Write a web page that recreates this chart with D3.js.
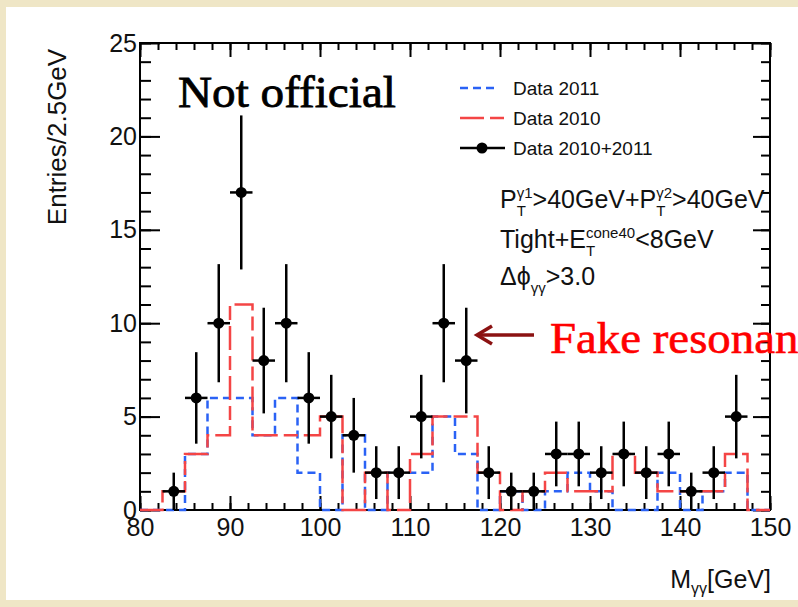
<!DOCTYPE html>
<html><head><meta charset="utf-8">
<script src="https://cdn.jsdelivr.net/npm/d3@7"></script>
<style>
html,body{margin:0;padding:0;background:#efe6c6;}
svg{display:block;}
text{font-family:"Liberation Sans",Arial,Helvetica,sans-serif;}
</style></head>
<body>
<svg id="c" width="798" height="607"></svg>
<script>
// ---- data ----
const binCenters = [81.25,83.75,86.25,88.75,91.25,93.75,96.25,98.75,101.25,103.75,106.25,108.75,111.25,113.75,116.25,118.75,121.25,123.75,126.25,128.75,131.25,133.75,136.25,138.75,141.25,143.75,146.25,148.75];
const data2010_2011 = [0,1,6,10,17,8,10,6,5,4,2,2,5,10,8,2,1,1,3,3,2,3,2,3,1,2,5,0];
const data2010 = [0,1,3,4,11,4,4,4,5,0,2,0,3,5,5,2,0,1,2,1,1,3,2,1,1,1,3,0];
const data2011 = [0,0,3,6,6,4,6,2,0,4,0,2,2,5,3,0,1,0,1,2,1,0,0,2,0,1,2,0];
const binWidth = 2.5;
const xTicks = [80,90,100,110,120,130,140,150];
const yTicks = [0,5,10,15,20,25];
const legendLabels = ["Data 2011","Data 2010","Data 2010+2011"];

const svg = d3.select("#c");
// background panel
svg.append("rect").attr("x",0).attr("y",0).attr("width",798).attr("height",607).attr("fill","#efe6c6");
svg.append("rect").attr("x",6).attr("y",7).attr("width",792).attr("height",593).attr("fill","#ffffff");

const x = d3.scaleLinear().domain([80,150]).range([140,770]);
const y = d3.scaleLinear().domain([0,25]).range([510,43]);

const minorX = d3.range(80,150.001,2);
const minorY = d3.range(0,25.001,1);

function styleAxis(g){ g.select(".domain").remove(); g.selectAll("line").attr("stroke","#000").attr("stroke-width",2); }

// bottom
svg.append("g").attr("transform","translate(0,510)")
  .call(d3.axisBottom(x).tickValues(minorX).tickFormat("").tickSizeInner(-7).tickSizeOuter(0)).call(styleAxis);
svg.append("g").attr("transform","translate(0,510)")
  .call(d3.axisBottom(x).tickValues(xTicks).tickSizeInner(-14).tickSizeOuter(0).tickPadding(8)).call(styleAxis)
  .selectAll("text").attr("font-size",25).attr("fill","#111").style("font-family","'Liberation Sans',Arial");
// top
svg.append("g").attr("transform","translate(0,43)")
  .call(d3.axisTop(x).tickValues(minorX).tickFormat("").tickSizeInner(-7).tickSizeOuter(0)).call(styleAxis);
svg.append("g").attr("transform","translate(0,43)")
  .call(d3.axisTop(x).tickValues(xTicks).tickFormat("").tickSizeInner(-14).tickSizeOuter(0)).call(styleAxis);
// left
svg.append("g").attr("transform","translate(140,0)")
  .call(d3.axisLeft(y).tickValues(minorY).tickFormat("").tickSizeInner(-11).tickSizeOuter(0)).call(styleAxis);
svg.append("g").attr("transform","translate(140,0)")
  .call(d3.axisLeft(y).tickValues(yTicks).tickSizeInner(-20).tickSizeOuter(0).tickPadding(3)).call(styleAxis)
  .selectAll("text").attr("font-size",25).attr("fill","#111").style("font-family","'Liberation Sans',Arial");
// right
svg.append("g").attr("transform","translate(770,0)")
  .call(d3.axisRight(y).tickValues(minorY).tickFormat("").tickSizeInner(-9).tickSizeOuter(0)).call(styleAxis);
svg.append("g").attr("transform","translate(770,0)")
  .call(d3.axisRight(y).tickValues(yTicks).tickFormat("").tickSizeInner(-17).tickSizeOuter(0)).call(styleAxis);

// frame
svg.append("rect").attr("x",x(80)).attr("y",y(25)).attr("width",x(150)-x(80)).attr("height",y(0)-y(25))
  .attr("fill","none").attr("stroke","#000").attr("stroke-width",2);

// histograms
const stepLine = d3.line().x(d=>x(d[0])).y(d=>y(d[1])).curve(d3.curveStepAfter);
function histPts(vals){
  const pts = binCenters.map((c,i)=>[c-binWidth/2, vals[i]]);
  pts.push([binCenters[binCenters.length-1]+binWidth/2, vals[vals.length-1]]);
  return pts;
}
const blue = "#2a62f5", red = "#f44545";
svg.append("path").attr("d",stepLine(histPts(data2011))).attr("fill","none")
  .attr("stroke",blue).attr("stroke-width",2.5).attr("stroke-dasharray","8,5");
svg.append("path").attr("d",stepLine(histPts(data2010))).attr("fill","none")
  .attr("stroke",red).attr("stroke-width",2.5).attr("stroke-dasharray","24,6,14,6");

// data points with errors
const pts = binCenters.map((c,i)=>({c, v:data2010_2011[i]})).filter(d=>d.v>0);
const pg = svg.append("g");
pg.selectAll(".ev").data(pts).join("line").attr("x1",d=>x(d.c)).attr("x2",d=>x(d.c))
  .attr("y1",d=>y(Math.max(0,d.v-Math.sqrt(d.v)))).attr("y2",d=>y(d.v+Math.sqrt(d.v)))
  .attr("stroke","#000").attr("stroke-width",2.5);
pg.selectAll(".eh").data(pts).join("line").attr("x1",d=>x(d.c-binWidth/2)).attr("x2",d=>x(d.c+binWidth/2))
  .attr("y1",d=>y(d.v)).attr("y2",d=>y(d.v)).attr("stroke","#000").attr("stroke-width",2.5);
pg.selectAll("circle").data(pts).join("circle").attr("cx",d=>x(d.c)).attr("cy",d=>y(d.v)).attr("r",5.5).attr("fill","#000");

// axis titles
svg.append("text").attr("transform","translate(66,137) rotate(-90)").attr("text-anchor","middle")
  .attr("font-size",26).attr("fill","#111").text("Entries/2.5GeV");
const xl = svg.append("text").attr("x",771).attr("y",588).attr("text-anchor","end").attr("font-size",25).attr("fill","#111");
xl.append("tspan").text("M");
xl.append("tspan").attr("font-size",16).attr("dy",6).text("γγ");
xl.append("tspan").attr("dy",-6).text("[GeV]");

// legend
const lg = svg.append("g");
const ly = [88,118,148];
lg.append("line").attr("x1",460).attr("x2",498).attr("y1",ly[0]).attr("y2",ly[0]).attr("stroke",blue).attr("stroke-width",2.5).attr("stroke-dasharray","8,5");
lg.append("line").attr("x1",460).attr("x2",505).attr("y1",ly[1]).attr("y2",ly[1]).attr("stroke",red).attr("stroke-width",2.5).attr("stroke-dasharray","24,6,14,6");
lg.append("line").attr("x1",460).attr("x2",505).attr("y1",ly[2]).attr("y2",ly[2]).attr("stroke","#000").attr("stroke-width",2.5);
lg.append("circle").attr("cx",482).attr("cy",ly[2]).attr("r",5.5).attr("fill","#000");
legendLabels.forEach((t,i)=>lg.append("text").attr("x",513).attr("y",ly[i]).attr("dy","0.36em").attr("font-size",19).attr("fill","#111").text(t));

// rich annotation text
function rich(x0, y0, parts, size){
  let cx = x0;
  const g = svg.append("g").attr("fill","#111");
  parts.forEach(p=>{
    if (p.stack){
      const a = g.append("text").attr("x",cx).attr("y",y0-size*0.42).attr("font-size",size*0.6).text(p.stack[0]);
      const b = g.append("text").attr("x",cx).attr("y",y0+size*0.3).attr("font-size",size*0.6).text(p.stack[1]);
      cx += Math.max(a.node().getComputedTextLength(), b.node().getComputedTextLength());
    } else if (p.sub){
      const b = g.append("text").attr("x",cx).attr("y",y0+size*0.3).attr("font-size",size*0.6).text(p.sub);
      cx += b.node().getComputedTextLength();
    } else {
      const t = g.append("text").attr("x",cx).attr("y",y0).attr("font-size",size).text(p.t);
      cx += t.node().getComputedTextLength();
    }
  });
}
rich(500,208,[{t:"P"},{stack:["γ1","T"]},{t:">40GeV+P"},{stack:["γ2","T"]},{t:">40GeV"}],25);
rich(500,248,[{t:"Tight+E"},{stack:["cone40","T"]},{t:"<8GeV"}],25);
rich(500,285,[{t:"Δϕ"},{sub:"γγ"},{t:">3.0"}],25);

// annotations
svg.append("text").attr("x",178).attr("y",107).attr("font-size",45)
  .style("font-family","'Liberation Serif','Times New Roman',serif").attr("fill","#000")
  .attr("stroke","#000").attr("stroke-width",0.8)
  .attr("textLength",218).attr("lengthAdjust","spacingAndGlyphs").text("Not official");
svg.append("text").attr("x",550).attr("y",353).attr("font-size",44)
  .style("font-family","'Liberation Serif','Times New Roman',serif").attr("fill","#ff0000")
  .attr("stroke","#ff0000").attr("stroke-width",0.6)
  .attr("textLength",290).attr("lengthAdjust","spacingAndGlyphs").text("Fake resonance");
const ac = "#8b1212";
svg.append("line").attr("x1",534).attr("x2",478).attr("y1",335).attr("y2",335).attr("stroke",ac).attr("stroke-width",3.5);
svg.append("path").attr("d","M492,326 L477,335 L492,344").attr("fill","none").attr("stroke",ac).attr("stroke-width",3.5);
</script>
</body></html>
